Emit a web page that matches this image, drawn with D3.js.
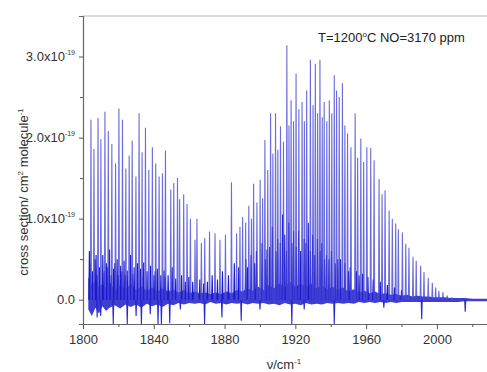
<!DOCTYPE html>
<html lang="en">
<head>
<meta charset="UTF-8">
<title>NO absorption cross section</title>
<script src="https://d3js.org/d3.v7.min.js"></script>
<style>
  body { margin: 0; background: #fff; font-family: Arial, "Liberation Sans", sans-serif; }
  svg { display: block; }
</style>
</head>
<body>
<div id="chart"></div>
<script>
// Axis ticks
const xTicks = [1800, 1840, 1880, 1920, 1960, 2000];
const xMinor = [1820, 1860, 1900, 1940, 1980, 2020];
const yTicks = [0, 1, 2, 3];
const yMinor = [0.5, 1.5, 2.5];

// Strong rovibrational lines (wavenumber, cross section in 1e-19)
const mainNu = [1804.5, 1806.2, 1808.5, 1810.1, 1812.4, 1814.3, 1816.3, 1818.4, 1820.3, 1822.3,
  1824.2, 1826.1, 1827.8, 1829.9, 1831.7, 1833.4, 1835.3, 1837.2, 1839.2, 1841.1,
  1843.0, 1844.9, 1846.6, 1849.6, 1851.3, 1853.4, 1854.6, 1856.9, 1858.8, 1860.7,
  1863.3, 1864.4, 1866.9, 1868.8, 1871.5, 1874.6, 1877.4, 1880.5, 1883.9, 1886.8,
  1888.7, 1890.2, 1891.9, 1893.7, 1895.2, 1896.4, 1898.3, 1900.1, 1901.5, 1902.8,
  1904.4, 1906.0, 1907.3, 1908.8, 1910.1, 1911.6, 1913.3, 1915.2, 1916.4, 1917.6,
  1919.0, 1920.4, 1922.0, 1923.8, 1925.1, 1926.4, 1928.5, 1930.0, 1931.3, 1932.6,
  1933.9, 1935.2, 1936.3, 1937.8, 1939.2, 1940.6, 1942.0, 1943.3, 1944.8, 1946.6,
  1948.0, 1949.5, 1951.4, 1953.8, 1955.2, 1957.0, 1958.6, 1960.4, 1962.6, 1964.5,
  1967.3, 1969.0, 1970.7, 1973.0, 1974.8, 1976.7, 1978.2, 1980.5, 1982.4, 1984.2,
  1986.5, 1988.3, 1990.8, 1992.7, 1995.1, 1997.4, 1999.3, 2001.1, 2003.4, 2005.8,
  2008.5, 2012.4];
const mainH = [2.22, 1.86, 2.24, 1.98, 2.32, 2.08, 1.92, 1.68, 2.36, 2.22,
  1.62, 1.78, 1.96, 1.52, 2.30, 1.82, 2.12, 1.60, 1.88, 1.68,
  1.52, 1.56, 1.84, 1.36, 1.44, 1.50, 1.24, 1.30, 1.18, 1.00,
  0.74, 1.00, 0.70, 0.76, 0.84, 0.82, 0.74, 0.80, 1.45, 0.82,
  0.90, 1.02, 0.95, 1.16, 1.00, 1.43, 1.20, 1.48, 1.25, 1.97,
  1.60, 2.30, 1.80, 2.30, 1.85, 2.14, 1.95, 3.14, 2.15, 2.46,
  2.20, 2.79, 2.35, 2.44, 2.20, 2.58, 2.96, 2.40, 2.91, 2.30,
  2.96, 2.25, 2.44, 2.20, 2.46, 2.30, 2.77, 2.58, 2.50, 2.67,
  2.15, 2.05, 1.88, 2.30, 1.75, 1.99, 1.70, 1.88, 1.87, 1.72,
  1.49, 1.30, 1.35, 1.10, 1.00, 0.94, 0.87, 0.83, 0.69, 0.64,
  0.53, 0.48, 0.42, 0.34, 0.27, 0.21, 0.15, 0.11, 0.09, 0.05,
  0.03, 0.01];

// Weaker lines (hot band and minor components)
const weakNu = [1803.6, 1804.0, 1805.3, 1806.8, 1807.4, 1808.0, 1809.3, 1811.2, 1812.0, 1813.2,
  1814.0, 1815.0, 1816.0, 1817.3, 1818.0, 1819.3, 1820.0, 1821.3, 1822.0, 1823.2,
  1824.0, 1825.0, 1826.9, 1828.0, 1828.9, 1830.8, 1832.5, 1834.0, 1834.3, 1836.2,
  1838.2, 1840.1, 1840.8, 1842.0, 1844.0, 1845.8, 1846.5, 1848.1, 1850.4, 1852.4,
  1855.7, 1857.8, 1859.8, 1862.0, 1866.0, 1868.2, 1870.3, 1873.0, 1876.0, 1878.8,
  1882.2, 1885.5, 1888.0, 1892.0, 1893.0, 1895.0, 1897.0, 1898.0, 1901.2, 1903.0,
  1904.0, 1905.5, 1907.0, 1909.0, 1910.0, 1911.5, 1912.8, 1914.0, 1915.0, 1916.3,
  1918.0, 1919.0, 1920.5, 1921.8, 1923.0, 1925.0, 1926.0, 1927.3, 1928.5, 1929.8,
  1931.0, 1932.5, 1934.0, 1935.0, 1936.5, 1937.6, 1939.0, 1940.4, 1942.5, 1944.0,
  1945.5, 1948.0, 1950.0, 1951.0, 1954.5, 1956.0, 1958.0, 1961.0, 1964.0, 1968.0,
  1972.0, 1976.0, 1980.0];
const weakH = [0.60, 0.45, 0.35, 0.50, 0.55, 0.30, 0.40, 0.55, 0.35, 0.45,
  0.40, 0.62, 0.30, 0.38, 0.45, 0.50, 0.30, 0.42, 0.35, 0.48,
  0.30, 0.36, 0.55, 0.32, 0.40, 0.45, 0.38, 0.28, 0.46, 0.35,
  0.42, 0.30, 0.35, 0.38, 0.30, 0.36, 0.28, 0.30, 0.40, 0.26,
  0.30, 0.22, 0.28, 0.22, 0.25, 0.20, 0.22, 0.30, 0.25, 0.35,
  0.30, 0.45, 0.40, 0.50, 0.40, 0.55, 0.45, 0.60, 0.70, 0.50,
  0.62, 0.65, 0.90, 0.60, 0.75, 0.70, 1.05, 0.80, 0.60, 0.95,
  0.70, 0.85, 0.65, 0.85, 0.60, 0.75, 0.70, 0.95, 0.60, 0.80,
  0.55, 0.75, 0.60, 0.70, 0.50, 0.55, 0.50, 0.60, 0.45, 0.50,
  0.50, 0.45, 0.35, 0.40, 0.35, 0.30, 0.32, 0.28, 0.25, 0.22,
  0.18, 0.15, 0.12];

// Negative spikes below the baseline
const dipNu = [1808.0, 1810.0, 1817.1, 1825.0, 1830.0, 1833.0, 1838.0, 1842.4, 1844.3, 1849.0,
  1855.0, 1868.7, 1878.5, 1889.4, 1900.0, 1918.0, 1925.0, 1942.0, 1970.0, 1991.4, 2016.0];
const dipH = [-0.22, -0.20, -0.30, -0.30, -0.20, -0.30, -0.18, -0.30, -0.30, -0.29,
  -0.12, -0.30, -0.22, -0.26, -0.12, -0.30, -0.12, -0.30, -0.10, -0.24, -0.15];

// Baseline noise envelope
const noiseNu = [1803, 1805, 1807, 1809, 1811, 1813, 1815, 1818, 1821, 1824,
  1827, 1830, 1833, 1836, 1839, 1842, 1845, 1848, 1851, 1854,
  1857, 1860, 1863, 1866, 1869, 1872, 1875, 1878, 1881, 1884,
  1887, 1890, 1893, 1896, 1899, 1902, 1905, 1908, 1911, 1914,
  1917, 1920, 1923, 1926, 1929, 1932, 1935, 1938, 1941, 1944,
  1947, 1950, 1953, 1956, 1959, 1962, 1965, 1968, 1971, 1974,
  1977, 1980, 1983, 1986, 1989, 1992, 1995, 1998, 2001, 2004,
  2008, 2012, 2016, 2020, 2025, 2030];
const noiseHi = [0.28, 0.18, 0.24, 0.15, 0.20, 0.14, 0.22, 0.12, 0.18, 0.13,
  0.20, 0.12, 0.16, 0.11, 0.15, 0.10, 0.14, 0.10, 0.13, 0.09,
  0.12, 0.08, 0.10, 0.08, 0.09, 0.07, 0.09, 0.07, 0.10, 0.08,
  0.12, 0.10, 0.14, 0.11, 0.16, 0.12, 0.18, 0.14, 0.20, 0.15,
  0.22, 0.16, 0.20, 0.15, 0.20, 0.14, 0.18, 0.13, 0.16, 0.12,
  0.15, 0.10, 0.13, 0.09, 0.11, 0.08, 0.10, 0.07, 0.08, 0.06,
  0.07, 0.05, 0.06, 0.04, 0.05, 0.04, 0.04, 0.03, 0.03, 0.03,
  0.02, 0.02, 0.02, 0.01, 0.01, 0.01];
const noiseLo = [-0.12, -0.20, -0.10, -0.17, -0.08, -0.14, -0.10, -0.07, -0.11, -0.06,
  -0.09, -0.06, -0.10, -0.05, -0.08, -0.06, -0.09, -0.05, -0.07, -0.04,
  -0.06, -0.04, -0.05, -0.04, -0.06, -0.03, -0.05, -0.04, -0.06, -0.04,
  -0.05, -0.04, -0.06, -0.04, -0.05, -0.04, -0.06, -0.05, -0.07, -0.04,
  -0.06, -0.05, -0.07, -0.04, -0.06, -0.05, -0.06, -0.04, -0.05, -0.04,
  -0.05, -0.04, -0.05, -0.03, -0.04, -0.03, -0.04, -0.03, -0.04, -0.03,
  -0.04, -0.03, -0.03, -0.03, -0.03, -0.03, -0.03, -0.03, -0.03, -0.03,
  -0.03, -0.03, -0.02, -0.02, -0.02, -0.02];

const W = 487, H = 372;
const plot = { left: 83, right: 490, top: 16, bottom: 324 };

const svg = d3.select("#chart").append("svg")
  .attr("width", W).attr("height", H);

const x = d3.scaleLinear().domain([1800, 2030]).range([plot.left, plot.right]);
const y = d3.scaleLinear().domain([-0.3, 3.5]).range([plot.bottom, plot.top]);

svg.append("clipPath").attr("id", "clip")
  .append("rect")
  .attr("x", plot.left).attr("y", plot.top)
  .attr("width", plot.right - plot.left).attr("height", plot.bottom - plot.top);

const g = svg.append("g").attr("clip-path", "url(#clip)");

// noise band
const noise = noiseNu.map((n, i) => ({ n, lo: noiseLo[i], hi: noiseHi[i] }));
g.append("path")
  .datum(noise)
  .attr("fill", "#1c1cc8")
  .attr("fill-opacity", 0.85)
  .attr("d", d3.area().x(d => x(d.n)).y0(d => y(d.lo)).y1(d => y(d.hi)));

const spike = d3.line().x(d => x(d[0])).y(d => y(d[1]));
const shape = d => spike([[d[0] - 0.3, 0], [d[0], d[1]], [d[0] + 0.3, 0]]);

// dips
g.selectAll(".dip")
  .data(dipNu.map((n, i) => [n, dipH[i]]))
  .enter().append("path")
  .attr("class", "dip")
  .attr("fill", "none")
  .attr("stroke", "#2a2ad0")
  .attr("stroke-width", 1.1)
  .attr("d", shape);

// weak lines
g.selectAll(".weak")
  .data(weakNu.map((n, i) => [n, weakH[i]]))
  .enter().append("path")
  .attr("class", "weak")
  .attr("fill", "none")
  .attr("stroke", "#1a1acc")
  .attr("stroke-width", 1.1)
  .attr("d", shape);

// strong lines
g.selectAll(".main")
  .data(mainNu.map((n, i) => [n, mainH[i]]))
  .enter().append("path")
  .attr("class", "main")
  .attr("fill", "none")
  .attr("stroke", "#4646d8")
  .attr("stroke-opacity", 0.8)
  .attr("stroke-width", 1.1)
  .attr("d", shape);

// frame: top line
svg.append("line")
  .attr("x1", plot.left).attr("x2", W)
  .attr("y1", plot.top).attr("y2", plot.top)
  .attr("stroke", "#b8b8b8").attr("stroke-width", 1);

// x axis
const xAxis = svg.append("g")
  .attr("transform", `translate(0,${plot.bottom})`)
  .call(d3.axisBottom(x).tickValues(xTicks).tickSize(5).tickPadding(6).tickFormat(d3.format("d")));
svg.append("g")
  .attr("transform", `translate(0,${plot.bottom})`)
  .call(d3.axisBottom(x).tickValues(xMinor).tickSize(3).tickFormat(""))
  .call(a => a.select(".domain").remove());

// y axis
svg.append("g")
  .attr("transform", `translate(${plot.left},0)`)
  .call(d3.axisLeft(y).tickValues(yTicks).tickSize(4).tickFormat(""));
svg.append("g")
  .attr("transform", `translate(${plot.left},0)`)
  .call(d3.axisLeft(y).tickValues(yMinor).tickSize(3).tickFormat(""))
  .call(a => a.select(".domain").remove());

svg.selectAll(".domain").attr("stroke", "#666").attr("stroke-width", 1.2);
svg.selectAll(".tick line").attr("stroke", "#555");
xAxis.selectAll(".tick text")
  .attr("font-size", 13).attr("fill", "#333")
  .attr("font-family", "Arial, 'Liberation Sans', sans-serif");

// y tick labels with superscript exponent
yTicks.forEach(v => {
  const t = svg.append("text")
    .attr("x", plot.left - 8)
    .attr("y", y(v) + 4.5)
    .attr("text-anchor", "end")
    .attr("font-size", 13)
    .attr("fill", "#333");
  if (v === 0) {
    t.text("0.0");
  } else {
    t.append("tspan").text(v.toFixed(1) + "x10");
    t.append("tspan").attr("dy", -6).attr("font-size", 7).text("-19");
  }
});

// axis titles
const yt = svg.append("text")
  .attr("transform", `translate(28,192) rotate(-90)`)
  .attr("text-anchor", "middle")
  .attr("font-size", 13)
  .attr("fill", "#333");
yt.append("tspan").text("cross section/ cm");
yt.append("tspan").attr("dy", -5).attr("font-size", 8).text("2");
yt.append("tspan").attr("dy", 5).text(" molecule");
yt.append("tspan").attr("dy", -5).attr("font-size", 8).text("-1");

const xt = svg.append("text")
  .attr("x", 284).attr("y", 369)
  .attr("text-anchor", "middle")
  .attr("font-size", 13)
  .attr("fill", "#333");
xt.append("tspan").text("ν/cm");
xt.append("tspan").attr("dy", -5).attr("font-size", 8).text("-1");

// annotation
const ann = svg.append("text")
  .attr("x", 318).attr("y", 42)
  .attr("font-size", 13)
  .attr("fill", "#222");
ann.append("tspan").text("T=1200");
ann.append("tspan").attr("dy", -5).attr("font-size", 8).text("o");
ann.append("tspan").attr("dy", 5).text("C NO=3170 ppm");
</script>
</body>
</html>
